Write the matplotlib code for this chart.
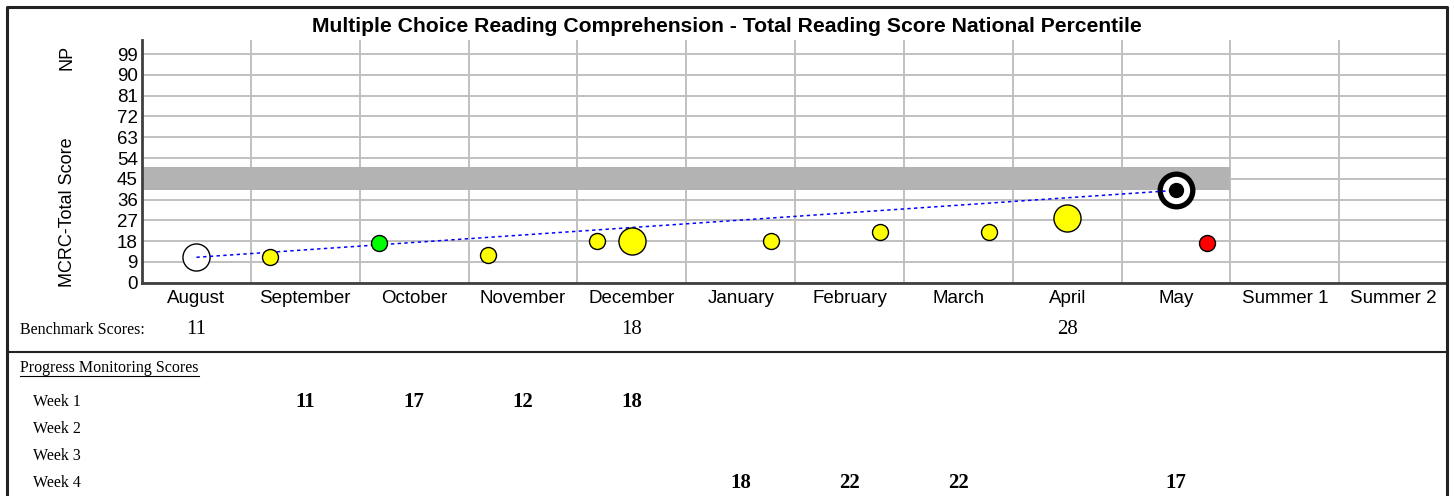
import matplotlib
matplotlib.use("Agg")
import matplotlib.pyplot as plt
import matplotlib.transforms as mtransforms
from matplotlib.patches import Rectangle
from matplotlib.lines import Line2D

# ------------------------------------------------------------
# data
# ------------------------------------------------------------
months = ["August", "September", "October", "November", "December", "January",
          "February", "March", "April", "May", "Summer 1", "Summer 2"]
y_ticks = [0, 9, 18, 27, 36, 45, 54, 63, 72, 81, 90, 99]

bench_months = ["August", "December", "April"]
bench_scores = [11, 18, 28]
bench_colors = ["white", "yellow", "yellow"]

pm_months = ["September", "October", "November", "December",
             "January", "February", "March", "May"]
pm_weeks = [1, 1, 1, 1, 4, 4, 4, 4]
pm_scores = [11, 17, 12, 18, 18, 22, 22, 17]
pm_colors = ["yellow", "#00ff00", "yellow", "yellow",
             "yellow", "yellow", "yellow", "red"]

goal_month = "May"
goal_score = 40
aim_low, aim_high = 40, 50
aim_last_month = "May"

week_labels = ["Week 1", "Week 2", "Week 3", "Week 4"]

SANS = "Liberation Sans"
SERIF = "Liberation Serif"

W, H = 1454, 496
fig = plt.figure(figsize=(W / 100, H / 100), dpi=100)


def fy(py):
    return 1 - py / H


def fx(px):
    return px / W


ax = fig.add_axes([fx(142), fy(282.7), fx(1446) - fx(142), fy(40) - fy(282.7)])
xpos = {m: i for i, m in enumerate(months)}

# aim band
ax.add_patch(Rectangle((-0.5, aim_low), xpos[aim_last_month] + 1, aim_high - aim_low,
                       facecolor="#b3b3b3", edgecolor="none", zorder=1.5))

# trend line from first benchmark to goal
ax.plot([xpos[bench_months[0]], xpos[goal_month]], [bench_scores[0], goal_score],
        color="blue", lw=1.1, ls=(0, (2.2, 2.2)), zorder=4)

# benchmark points (empty ones sit under the trend line)
for m, s, c in zip(bench_months, bench_scores, bench_colors):
    ax.plot(xpos[m], s, "o", ms=19.5, mfc=c, mec="black", mew=1.0,
            zorder=3 if c == "white" else 5)

# progress monitoring points
for m, w, s, c in zip(pm_months, pm_weeks, pm_scores, pm_colors):
    ax.plot(xpos[m] - 0.52 + 0.2 * w, s, "o", ms=11.5, mfc=c, mec="black",
            mew=1.0, zorder=5)

# goal target
ax.plot(xpos[goal_month], goal_score, "o", ms=23.5, mfc="white", mec="black",
        mew=3.8, zorder=3)
ax.plot(xpos[goal_month], goal_score, "o", ms=10, mfc="black", mec="black",
        zorder=6)

ax.set_xlim(-0.5, 11.48)
ax.set_ylim(0, 105.1)
ax.set_xticks(range(len(months)))
ax.set_xticklabels(months, family=SANS, fontsize=13.5)
ax.set_xticks([i + 0.5 for i in range(len(months) - 1)], minor=True)
ax.set_yticks(y_ticks)
ax.set_yticklabels([str(t) for t in y_ticks], family=SANS, fontsize=13.5)
ax.tick_params(axis="both", which="both", length=0)
ax.tick_params(axis="x", pad=5.5)
ax.tick_params(axis="y", pad=3)
ax.grid(axis="y", which="major", color="#c0c0c0", lw=1.4)
ax.grid(axis="x", which="minor", color="#c0c0c0", lw=1.4)
ax.set_axisbelow(True)
for side in ["top", "right"]:
    ax.spines[side].set_visible(False)
for side in ["left", "bottom"]:
    ax.spines[side].set_color("#404040")
    ax.spines[side].set_linewidth(2)

# titles and axis labels
fig.text(0.5, fy(26), "Multiple Choice Reading Comprehension - Total Reading Score National Percentile",
         ha="center", va="center", family=SANS, fontsize=15.2, fontweight="bold")
fig.text(fx(67), fy(57), "NP", rotation=90, ha="center", va="center",
         family=SANS, fontsize=13)
fig.text(fx(67), fy(212), "MCRC-Total Score", rotation=90, ha="center", va="center",
         family=SANS, fontsize=13)

# score table below the chart
trans = mtransforms.blended_transform_factory(ax.transData, fig.transFigure)
fig.text(fx(20), fy(330), "Benchmark Scores:", ha="left", va="center",
         family=SERIF, fontsize=11.5)
for m, s in zip(bench_months, bench_scores):
    ax.text(xpos[m], fy(329), str(s), transform=trans, ha="center", va="center",
            family=SERIF, fontsize=15, clip_on=False)

fig.text(fx(20), fy(368), "Progress Monitoring Scores", ha="left", va="center",
         family=SERIF, fontsize=11.5)
fig.add_artist(Line2D([fx(20), fx(199)], [fy(376), fy(376)], color="black", lw=0.8))

row_y = [402, 429, 456, 483]
for lbl, py in zip(week_labels, row_y):
    fig.text(fx(33), fy(py), lbl, ha="left", va="center", family=SERIF, fontsize=11.5)
for m, w, s in zip(pm_months, pm_weeks, pm_scores):
    ax.text(xpos[m], fy(row_y[w - 1]), str(s), transform=trans, ha="center",
            va="center", family=SERIF, fontsize=15, fontweight="bold", clip_on=False)

# frame and separator
fig.add_artist(Line2D([fx(7), fx(1447)], [fy(352), fy(352)], color="#222222", lw=1.5))
fig.add_artist(Line2D([fx(7), fx(7), fx(1447), fx(1447)], [fy(510), fy(7), fy(7), fy(510)],
                      color="#222222", lw=2.2))

fig.savefig("out.png", dpi=100)
